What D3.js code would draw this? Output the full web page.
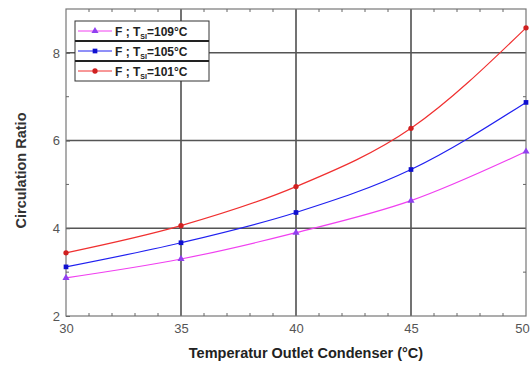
<!DOCTYPE html>
<html lang="en">
<head>
<meta charset="UTF-8">
<title>Circulation Ratio</title>
<script src="https://cdn.jsdelivr.net/npm/d3@7"></script>
<style>
  body { margin: 0; background: #fff; }
  svg { font-family: Arial, "Liberation Sans", sans-serif; }
</style>
</head>
<body>
<script>
'use strict';

// data
var temps = [30, 35, 40, 45, 50];
var ratio109 = [2.87, 3.30, 3.90, 4.63, 5.75];
var ratio105 = [3.12, 3.67, 4.36, 5.34, 6.87];
var ratio101 = [3.44, 4.06, 4.95, 6.28, 8.57];
var seriesNames = ['109', '105', '101'];
var xTicks = [30, 35, 40, 45, 50];
var yTicks = [2, 4, 6, 8];

var w = 531, h = 371;
var pL = 66, pR = 526, pT = 9, pB = 316;

var series = [
  { name: seriesNames[0], vals: ratio109, color: '#f040f0', mark: d3.symbolTriangle, mcol: '#9040f0' },
  { name: seriesNames[1], vals: ratio105, color: '#2020f0', mark: d3.symbolSquare, mcol: '#1010d0' },
  { name: seriesNames[2], vals: ratio101, color: '#f03030', mark: d3.symbolCircle, mcol: '#d02020' }
];

var svg = d3.select('body').append('svg')
  .attr('width', w).attr('height', h);

var x = d3.scaleLinear().domain([30, 50]).range([pL, pR]);
var y = d3.scaleLinear().domain([2, 9]).range([pB, pT]);

// grid
svg.append('g').selectAll('line').data([35, 40, 45]).enter().append('line')
  .attr('x1', d => x(d)).attr('x2', d => x(d))
  .attr('y1', pT).attr('y2', pB)
  .attr('stroke', '#444').attr('stroke-width', 1.5);
svg.append('g').selectAll('line').data([4, 6, 8]).enter().append('line')
  .attr('x1', pL).attr('x2', pR)
  .attr('y1', d => y(d)).attr('y2', d => y(d))
  .attr('stroke', '#555').attr('stroke-width', 1.5);

// frame
svg.append('rect')
  .attr('x', pL).attr('y', pT)
  .attr('width', pR - pL).attr('height', pB - pT)
  .attr('fill', 'none').attr('stroke', '#777').attr('stroke-width', 1.2);

// axes with inward ticks
var axB = d3.axisBottom(x).tickValues(xTicks).tickSize(0).tickPadding(8).tickFormat(d3.format('d'));
var axL = d3.axisLeft(y).tickValues(yTicks).tickSize(-4).tickPadding(6).tickFormat(d3.format('d'));

var gB = svg.append('g').attr('transform', 'translate(0,' + pB + ')').call(axB);
var gL = svg.append('g').attr('transform', 'translate(' + pL + ',0)').call(axL);
[gB, gL].forEach(function(g) {
  g.select('.domain').remove();
  g.selectAll('text').attr('fill', '#555').style('font-size', '13px');
  g.selectAll('line').attr('stroke', '#666');
});
// keep the last label inside the window
gB.selectAll('text').filter(d => d === 50).attr('dx', -4);

// minor ticks
var minorX = d3.range(31, 50).filter(d => d % 5 !== 0);
svg.append('g').selectAll('line').data(minorX).enter().append('line')
  .attr('x1', d => x(d)).attr('x2', d => x(d))
  .attr('y1', pB).attr('y2', pB - 3)
  .attr('stroke', '#666');
svg.append('g').selectAll('line').data(minorX).enter().append('line')
  .attr('x1', d => x(d)).attr('x2', d => x(d))
  .attr('y1', pT).attr('y2', pT + 3)
  .attr('stroke', '#666');
svg.append('g').selectAll('line').data([3, 5, 7]).enter().append('line')
  .attr('x1', pL).attr('x2', pL + 3)
  .attr('y1', d => y(d)).attr('y2', d => y(d))
  .attr('stroke', '#666');
svg.append('g').selectAll('line').data([3, 5, 7]).enter().append('line')
  .attr('x1', pR).attr('x2', pR - 3)
  .attr('y1', d => y(d)).attr('y2', d => y(d))
  .attr('stroke', '#666');

// curves
var line = d3.line()
  .x((d, i) => x(temps[i]))
  .y(d => y(d))
  .curve(d3.curveMonotoneX);

series.forEach(function(s) {
  svg.append('path')
    .attr('d', line(s.vals))
    .attr('fill', 'none')
    .attr('stroke', s.color)
    .attr('stroke-width', 1.2);
  svg.append('g').selectAll('path').data(s.vals).enter().append('path')
    .attr('transform', (d, i) => 'translate(' + x(temps[i]) + ',' + y(d) + ')')
    .attr('d', d3.symbol().type(s.mark).size(22))
    .attr('fill', s.mcol);
});

// legend
var lg = svg.append('g').attr('transform', 'translate(75,21)');
lg.append('rect').attr('width', 134).attr('height', 60)
  .attr('fill', '#fff').attr('stroke', '#333').attr('stroke-width', 1);
series.forEach(function(s, i) {
  var row = lg.append('g').attr('transform', 'translate(0,' + (i * 20) + ')');
  if (i > 0) {
    row.append('line').attr('x1', 0).attr('x2', 134)
      .attr('stroke', '#222').attr('stroke-width', 2);
  }
  row.append('line').attr('x1', 3).attr('x2', 37)
    .attr('y1', 10).attr('y2', 10)
    .attr('stroke', s.color).attr('stroke-width', 1);
  row.append('path').attr('transform', 'translate(20,10)')
    .attr('d', d3.symbol().type(s.mark).size(22))
    .attr('fill', s.mcol);
  var t = row.append('text').attr('x', 40).attr('y', 14.5)
    .attr('fill', '#222').style('font-size', '12px').style('font-weight', 'bold');
  t.append('tspan').text('F ; T');
  t.append('tspan').attr('dy', 3).style('font-size', '7px').text('SI');
  t.append('tspan').attr('dy', -3).text('=' + s.name + '°C');
});

// axis titles
svg.append('text')
  .attr('x', (pL + pR) / 2 + 10).attr('y', 358)
  .attr('text-anchor', 'middle')
  .style('font-size', '14.5px').style('font-weight', 'bold').attr('fill', '#222')
  .text('Temperatur Outlet Condenser (°C)');
svg.append('text')
  .attr('transform', 'translate(26,' + ((pT + pB) / 2 + 8) + ') rotate(-90)')
  .attr('text-anchor', 'middle')
  .style('font-size', '14.5px').style('font-weight', 'bold').attr('fill', '#333')
  .text('Circulation Ratio');
</script>
</body>
</html>
